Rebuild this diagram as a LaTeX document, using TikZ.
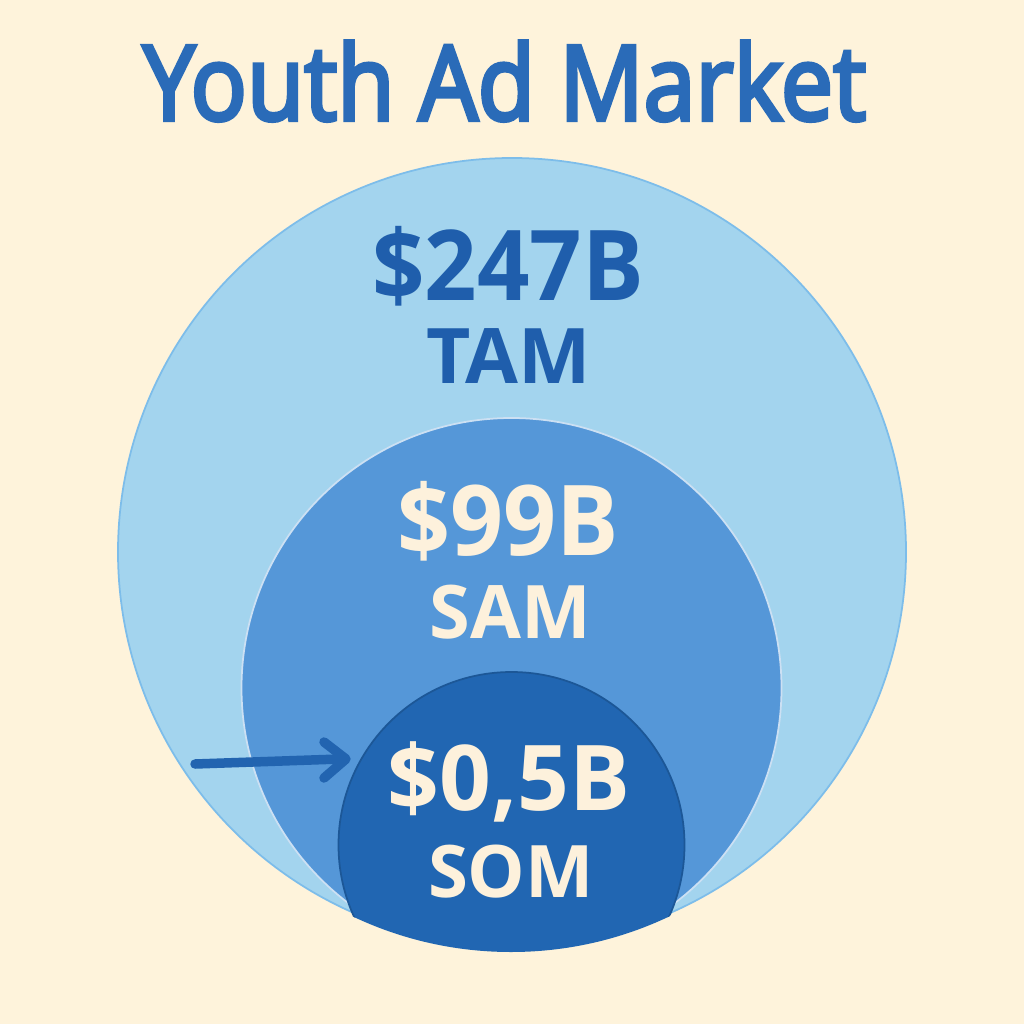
\documentclass[tikz,border=0pt]{standalone}
\usepackage{fontspec}
\setmainfont{Open Sans}
\newfontfamily\titlefont[FakeBold=4]{Open Sans}
\definecolor{bg}{HTML}{FEF3DB}
\definecolor{tamc}{HTML}{A3D4EE}
\definecolor{tamedge}{HTML}{7DBDEA}
\definecolor{samc}{HTML}{5597D8}
\definecolor{somc}{HTML}{2166B2}
\definecolor{titlec}{HTML}{2A6BB8}
\definecolor{darktxt}{HTML}{1F5EAC}
\definecolor{cream}{HTML}{FDF1DC}
\definecolor{arrowc}{HTML}{2264B0}
\tikzset{
  bignum/.style={anchor=base, inner sep=0pt},
  darklabel/.style={bignum, text=darktxt},
  creamlabel/.style={bignum, text=cream},
  arrowline/.style={draw=arrowc, line width=2.7pt, line cap=round, line join=round}
}
\begin{document}
\begin{tikzpicture}[x=0.01cm,y=-0.01cm]
\useasboundingbox (0,0) rectangle (1024,1024);
\fill[bg] (0,0) rectangle (1024,1024);
% TAM
\fill[tamc] (512,552) circle[radius=394];
\draw[tamedge, line width=0.5pt] (512,552) circle[radius=394];
% SAM
\begin{scope}
  \clip (512,552) circle[radius=394];
  \fill[samc] (511.5,688) circle[radius=270];
  \draw[white!70!samc, line width=0.5pt] (511.5,688) circle[radius=270];
\end{scope}
% SOM
\begin{scope}
  \clip (511,583) circle[radius=369];
  \fill[somc] (511.5,845) circle[radius=173];
  \draw[somc!85!black, line width=0.5pt] (511.5,845) circle[radius=173];
\end{scope}
% title
\node[bignum, text=titlec, font=\fontsize{29.5}{30}\titlefont] (title) at (504.5,120) {\scalebox{0.9}[1]{Youth Ad Market}};
% labels
\node[darklabel, font=\fontsize{27.8}{28}\selectfont\bfseries] (tamv) at (508,300) {\scalebox{0.94}[1]{\$247B}};
\node[darklabel, font=\fontsize{21.8}{22}\selectfont\bfseries] (taml) at (509,383) {TAM};
\node[creamlabel, font=\fontsize{27.8}{28}\selectfont\bfseries] (samv) at (508.5,555) {\scalebox{0.95}[1]{\$99B}};
\node[creamlabel, font=\fontsize{21}{22}\selectfont\bfseries] (saml) at (510.5,638) {SAM};
\node[creamlabel, font=\fontsize{25.8}{26}\selectfont\bfseries] (somv) at (509,810) {\$0,5B};
\node[creamlabel, font=\fontsize{20.6}{21}\selectfont\bfseries] (soml) at (511,897) {SOM};
% arrow
\coordinate (arrS) at (195,764);
\coordinate (arrE) at (340,759);
\coordinate (arrT) at (346,759);
\draw[arrowline] (arrS) -- (arrE);
\draw[arrowline] (arrT) ++(-22,-17) -- (arrT) -- ++(-22,19);
\end{tikzpicture}
\end{document}
